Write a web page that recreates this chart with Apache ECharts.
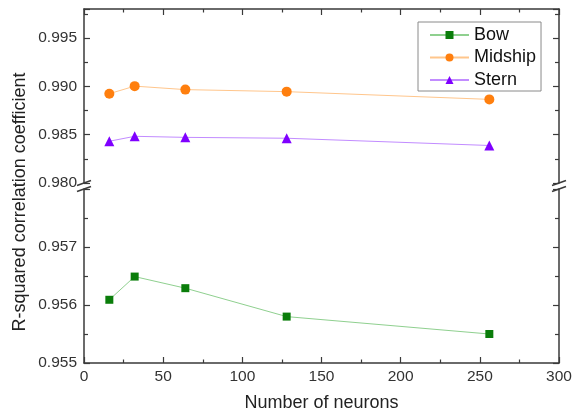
<!DOCTYPE html>
<html><head><meta charset="utf-8">
<script src="https://cdn.jsdelivr.net/npm/echarts@6/dist/echarts.min.js"></script>
<style>html,body{margin:0;padding:0;background:#fff}#c{width:578px;height:416px}</style>
</head><body><div id="c"></div>
<script>
const neurons = [16, 32, 64, 128, 256];
const bow = [0.95609, 0.95649, 0.95629, 0.95580, 0.95550];
const midship = [0.98924, 0.99002, 0.98966, 0.98945, 0.98865];
const stern = [0.98432, 0.98483, 0.98472, 0.98463, 0.98388];
const seriesNames = ['Bow', 'Midship', 'Stern'];
const xTitle = 'Number of neurons';
const yTitle = 'R-squared correlation coefficient';

const FONT = "'Liberation Sans', Arial, sans-serif";
const L = 84, R = 19, UT = 9, UH = 174, LT = 189, LH = 174;
const axisColor = '#3a3a3a';
const chart = echarts.init(document.getElementById('c'), null, {renderer: 'canvas'});

function xAx(grid, pos, labels) {
  return {
    type: 'value', gridIndex: grid, position: pos, min: 0, max: 300, interval: 50,
    axisLine: {show: true, lineStyle: {color: axisColor, width: 1.5}},
    axisTick: {show: true, inside: true, length: 6, lineStyle: {color: axisColor, width: 1.2}},
    minorTick: {show: true, splitNumber: 2, length: 3.5, lineStyle: {color: axisColor, width: 1.2}},
    splitLine: {show: false},
    axisLabel: {show: labels, color: '#333', fontFamily: FONT, fontSize: 15.5, margin: 6},
    name: labels ? xTitle : '', nameLocation: 'middle', nameGap: 31,
    nameTextStyle: {color: '#222', fontFamily: FONT, fontSize: 18}
  };
}
function yAx(grid, pos, min, max, interval, labels, hideMax) {
  return {
    type: 'value', gridIndex: grid, position: pos, min: min, max: max, interval: interval,
    axisLine: {show: true, onZero: false, lineStyle: {color: axisColor, width: 1.5}},
    axisTick: {show: true, inside: true, length: 6, lineStyle: {color: axisColor, width: 1.2}},
    minorTick: {show: true, splitNumber: 2, length: 4, lineStyle: {color: axisColor, width: 1.2}},
    splitLine: {show: false},
    axisLabel: {show: labels, color: '#333', fontFamily: FONT, fontSize: 15.5, margin: 7,
      showMaxLabel: !hideMax,
      formatter: v => (hideMax && Math.abs(v - max) < 1e-9) ? '' : v.toFixed(3)}
  };
}

function breakLines(x, y1, y2) {
  const mk = (y) => ({type: 'line', silent: true, z: 100,
    shape: {x1: x - 7, y1: y + 2.5, x2: x + 7, y2: y - 2.5},
    style: {stroke: axisColor, lineWidth: 1.5}});
  return [mk(y1), mk(y2)];
}

const plotRight = 578 - R;
const option = {
  backgroundColor: '#fff',
  animation: false,
  grid: [
    {left: L, right: R, top: UT, height: UH, containLabel: false, outerBoundsMode: 'none'},
    {left: L, right: R, top: LT, height: LH, containLabel: false, outerBoundsMode: 'none'}
  ],
  xAxis: [xAx(0, 'top', false), xAx(1, 'bottom', true)],
  yAxis: [
    yAx(0, 'left', 0.980, 0.998, 0.005, true, true),
    yAx(1, 'left', 0.955, 0.958, 0.001, true, true),
    yAx(0, 'right', 0.980, 0.998, 0.005, false, true),
    yAx(1, 'right', 0.955, 0.958, 0.001, false, true)
  ],
  legend: {
    orient: 'vertical', left: 418, top: 22,
    data: seriesNames,
    itemWidth: 39, itemHeight: 10, itemGap: 4.5,
    padding: [4, 5, 2, 11],
    borderColor: '#8a8a8a', borderWidth: 1, borderRadius: 0,
    textStyle: {color: '#111', fontFamily: FONT, fontSize: 18, lineHeight: 18}
  },
  graphic: [
    {type: 'text', x: 20, y: 202, rotation: Math.PI / 2,
      style: {text: yTitle, fill: '#222', font: '18px ' + FONT, textAlign: 'center', textVerticalAlign: 'middle'}}
  ].concat(breakLines(L, UT + UH, LT), breakLines(plotRight, UT + UH, LT)),
  series: [
    {name: seriesNames[0], type: 'line', xAxisIndex: 1, yAxisIndex: 1,
      data: neurons.map((n, i) => [n, bow[i]]),
      symbol: 'rect', symbolSize: 8,
      itemStyle: {color: '#0a7d0a'}, lineStyle: {color: '#8fd08f', width: 1}},
    {name: seriesNames[1], type: 'line', xAxisIndex: 0, yAxisIndex: 0,
      data: neurons.map((n, i) => [n, midship[i]]),
      symbol: 'circle', symbolSize: 10,
      itemStyle: {color: '#ff7f0e'}, lineStyle: {color: '#ffc68c', width: 1}},
    {name: seriesNames[2], type: 'line', xAxisIndex: 0, yAxisIndex: 0,
      data: neurons.map((n, i) => [n, stern[i]]),
      symbol: 'triangle', symbolSize: 10,
      itemStyle: {color: '#7f00ff'}, lineStyle: {color: '#c28cff', width: 1}}
  ]
};
chart.setOption(option);
</script></body></html>
